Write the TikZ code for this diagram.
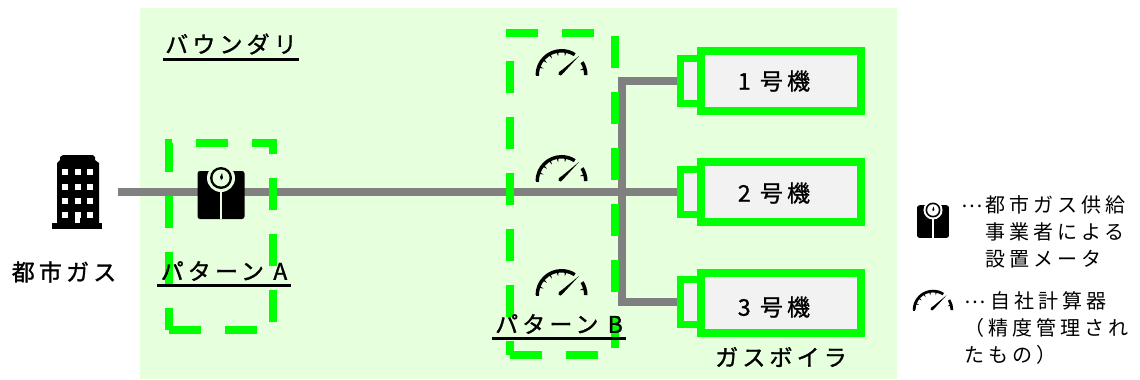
\documentclass[tikz,border=0pt]{standalone}
\usepackage{fontspec}
\setmainfont{Noto Sans CJK JP}
\newfontfamily\jplabel[LetterSpace=18,FakeBold=1.2]{Noto Sans CJK JP}
\newfontfamily\jpnote[LetterSpace=20]{Noto Sans CJK JP}
\newcommand{\middots}{\raisebox{5pt}{⋯}}
\definecolor{lime}{RGB}{0,255,0}
\definecolor{pale}{RGB}{230,255,220}
\definecolor{pipe}{RGB}{128,128,128}
\definecolor{boiler}{RGB}{242,242,242}
\tikzset{
  pipeline/.style={draw=pipe,line width=8pt},
  boundarybox/.style={draw=lime,line width=8pt,dash pattern=on 32pt off 24pt},
  body/.style={draw=lime,fill=boiler,line width=8pt,minimum width=160pt,minimum height=60pt,inner sep=0pt},
  nozzle/.style={draw=lime,fill=boiler,line width=7pt,minimum width=20pt,minimum height=45pt,inner sep=0pt},
  title/.style={font=\fontsize{23pt}{23pt}\jplabel,inner sep=0pt},
  headed/.style={title,minimum width=134pt,minimum height=28pt},
  note/.style={font=\fontsize{20pt}{27pt}\jpnote,inner sep=0pt,align=left,anchor=west},
  rule/.style={draw=black,line width=3pt},
  pics/scalemeter/.style={code={
    \fill[black,rounded corners=2.5pt] (-23.5,-7) rectangle (23.5,41);
    \fill[#1] (0,0) circle (14);
    \fill[#1] (-1.3,12) rectangle (1.3,41);
    \fill[black] (0,0) circle (11);
    \fill[#1] (0,0) circle (8.5);
    \fill[black] (-1,-1) -- (1,-5) -- (2,0) -- (0,2) -- cycle;
  }},
  pics/gaugemeter/.style={code={
    \fill[black] (180:26) arc (180:303:26) -- (303:22.5) arc (303:180:22.5) -- cycle;
    \fill[black] (-26,0) rectangle (-22.5,1);
    \fill[black] (328:26) arc (328:360:26) -- (360:22.5) arc (360:328:22.5) -- cycle;
    \foreach \a in {200,220,240,260,280,345} \fill[black] (\a-2.5:23.5) -- (\a+2.5:23.5) -- (\a:19) -- cycle;
    \fill[black] (17.5,-19) -- (1,-5.5) -- (-2.5,-3) -- (-3,-0.5) -- (-1,0.5) -- (0.5,-0.5) -- cycle;
  }}
}
\begin{document}
\begin{tikzpicture}[x=1pt,y=-1pt]
\useasboundingbox (0,0) rectangle (1140,380);
\fill[pale] (140,8) rectangle (897,379);
% office block
\fill[black] (52,223) rectangle (102,229);
\fill[black] (57,223) -- (57,163) -- (60,160) -- (60,157) -- (63,155) -- (93,155) -- (95,157) -- (95,160) -- (99,163) -- (99,223) -- cycle;
\foreach \row in {169,184,198,212} \foreach \col in {62,75,87}
  \fill[white] (\col,\row) rectangle ++(6,6);
\fill[white] (75,213) rectangle (80,223);
% boilers
\node[nozzle] (nozzlea) at (690,81)  {};
\node[nozzle] (nozzleb) at (690,191.5) {};
\node[nozzle] (nozzlec) at (690,302) {};
\node[body]   (boilera) at (781,81)  {};
\node[body]   (boilerb) at (781,191.5) {};
\node[body]   (boilerc) at (781,302.5) {};
\node[title]  at (774,81)  {1 号機};
\node[title]  at (774,193) {2 号機};
\node[title]  at (774,307) {3 号機};
% pipes
\coordinate (supply) at (118,191.5);
\draw[pipeline] (supply) -- (nozzleb.west);
\draw[pipeline] (nozzlea.west) -- (622,81) -- (622,302) -- (nozzlec.west);
% patterns
\draw[boundarybox] (169,330) -- (273,330) -- (273,143) -- (169,143) -- cycle;
\draw[boundarybox] (510,355) -- (615,355) -- (615,33) -- (510,33) -- cycle;
\pic at (221,178) {scalemeter=pale};
\pic at (561.5,75)  {gaugemeter};
\pic at (561.5,181) {gaugemeter};
\pic at (561.5,295) {gaugemeter};
% labels
\node[title]  (city) at (64,272) {都市ガス};
\node[title]  (boilers) at (781,357) {ガスボイラ};
\node[title,minimum width=136pt,minimum height=30pt] (boundary) at (231,44) {バウンダリ};
\node[headed] (patterna) at (224,271) {パターン A};
\node[headed] (patternb) at (559,324) {パターン B};
\draw[rule] (boundary.south west) -- (boundary.south east);
\draw[rule] (patterna.south west) -- (patterna.south east);
\draw[rule] (patternb.south west) -- (patternb.south east);
% legend
\pic[scale=.68] at (933,210) {scalemeter=white};
\pic[scale=.78] at (933,310) {gaugemeter};
\node[note] (notea) at (961,232) {\middots\hspace{3pt}都市ガス供給\\\hspace*{24pt}事業者による\\\hspace*{24pt}設置メータ};
\node[note] (noteb) at (964,328) {\middots\hspace{5pt}自社計算器\\（精度管理され\\たもの）};
\end{tikzpicture}
\end{document}
